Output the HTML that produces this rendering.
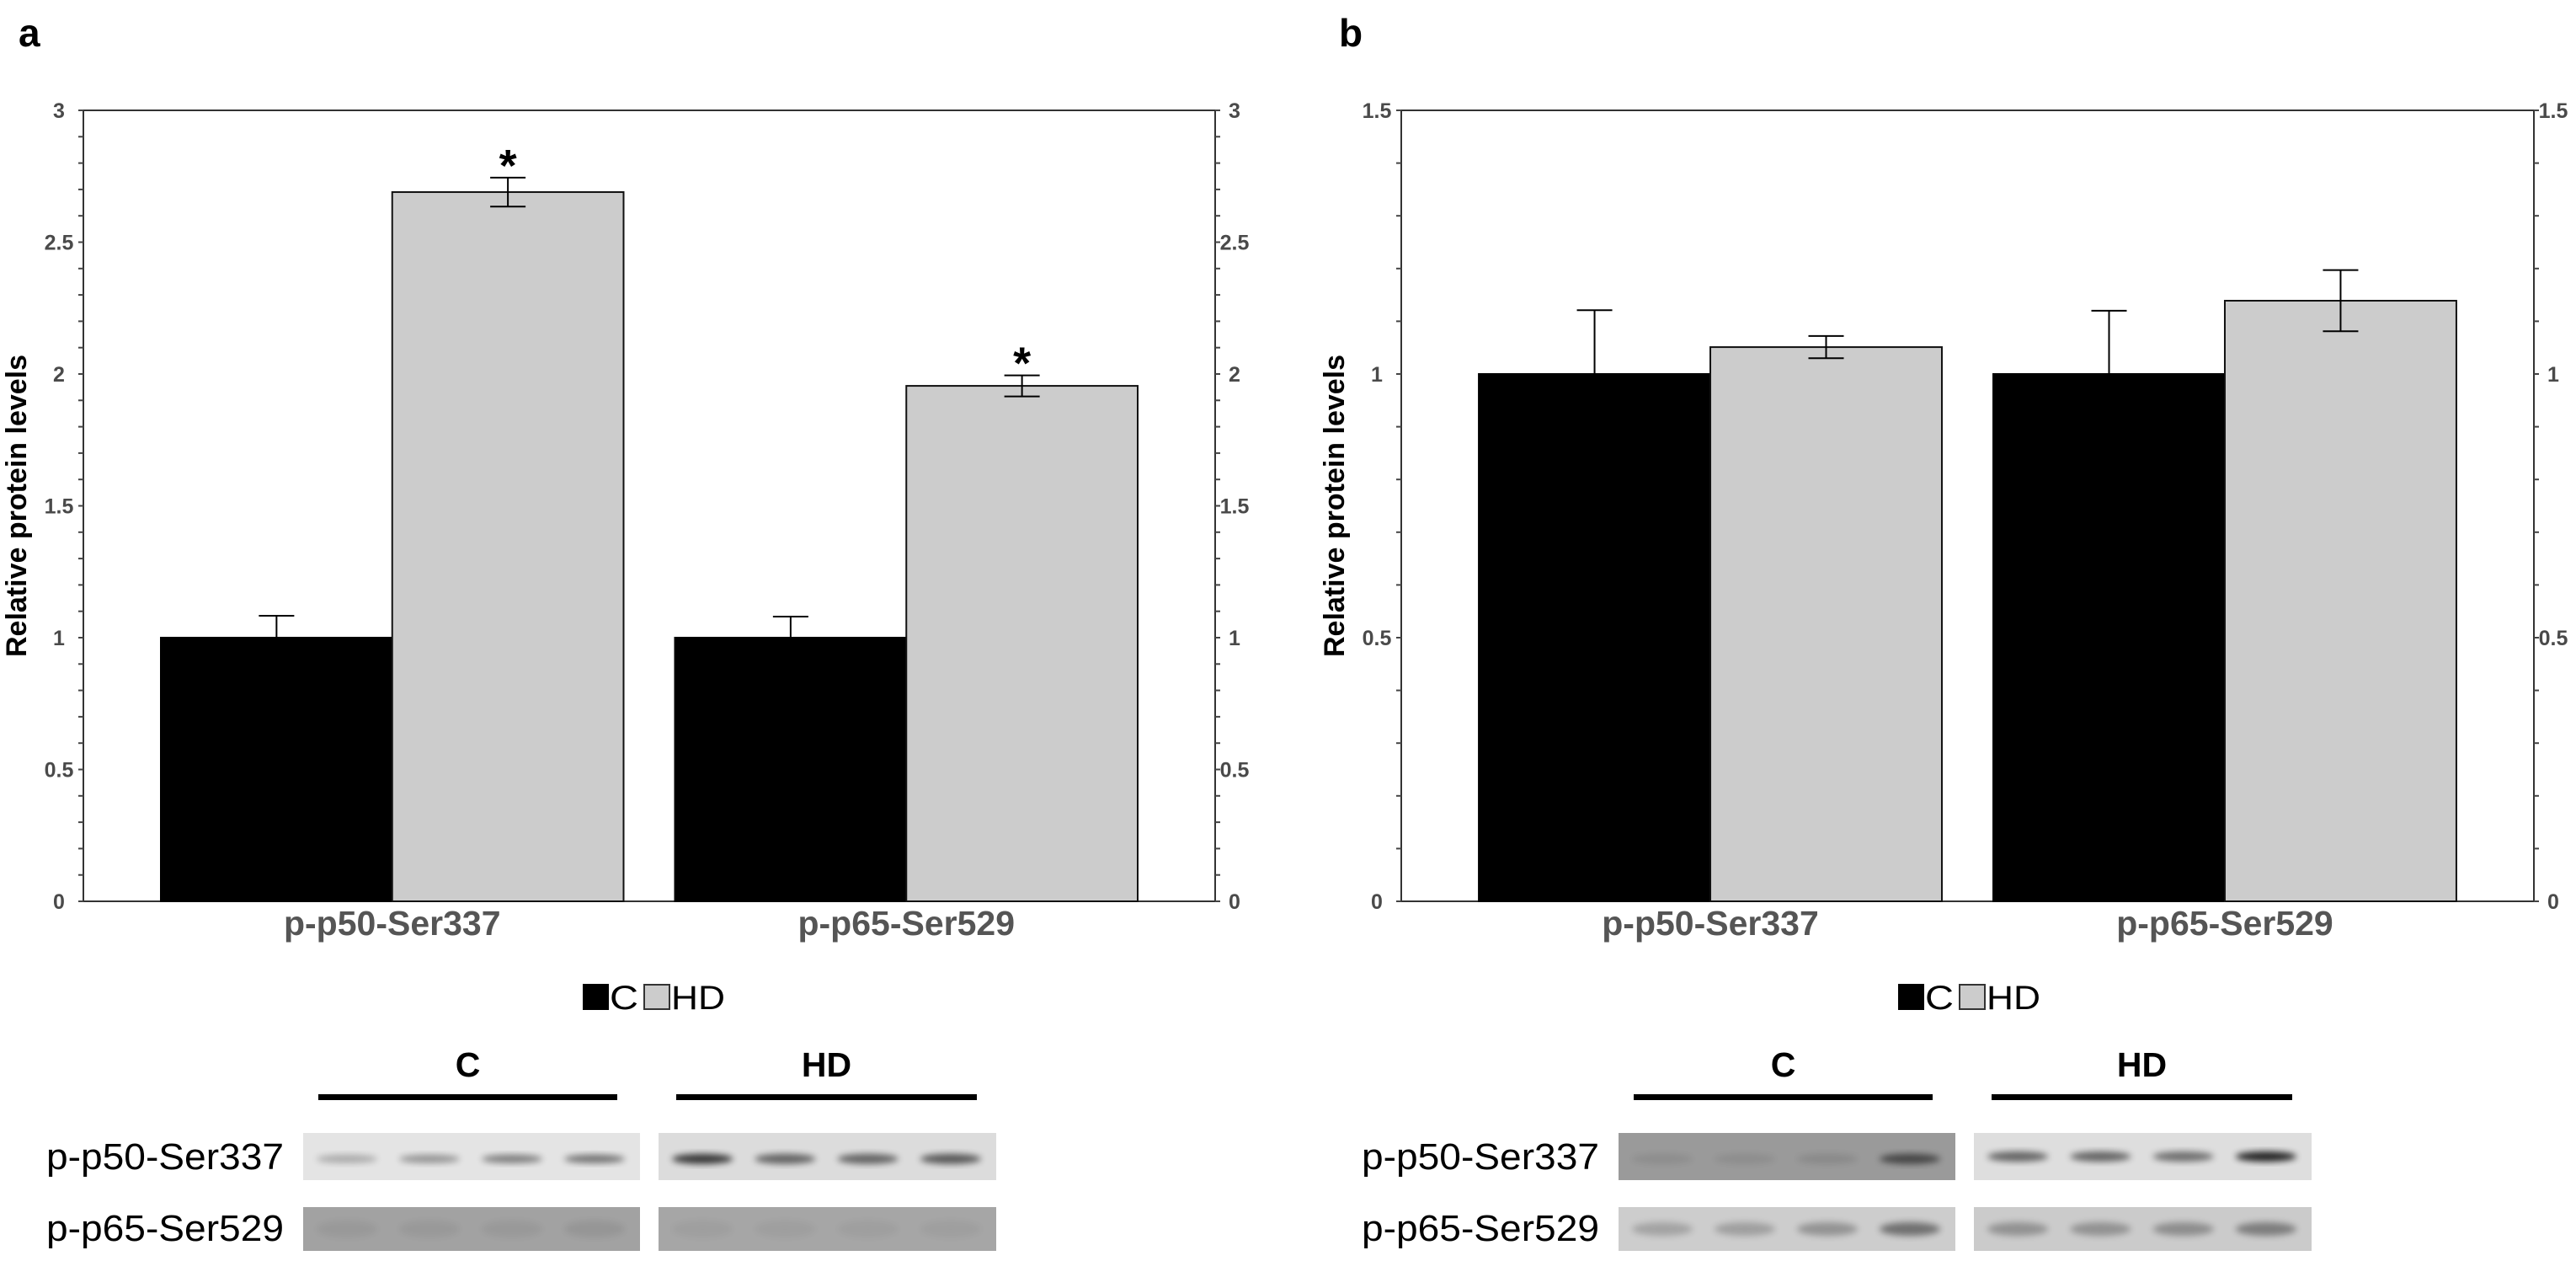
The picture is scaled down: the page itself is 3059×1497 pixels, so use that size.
<!DOCTYPE html>
<html><head><meta charset="utf-8"><style>
html,body{margin:0;padding:0;background:#fff}
svg{display:block}
text{font-family:"Liberation Sans",Arial,sans-serif}
</style></head><body>
<svg id="fig" width="3059" height="1497" viewBox="0 0 3059 1497" xmlns="http://www.w3.org/2000/svg">
<defs>
<filter id="blur" x="-20%" y="-50%" width="140%" height="200%"><feGaussianBlur stdDeviation="4"/></filter>
</defs>
<text x="22" y="55" font-size="46" font-weight="bold">a</text>
<text x="1590" y="55" font-size="46" font-weight="bold">b</text>
</svg>
<script>
const categories = ["p-p50-Ser337", "p-p65-Ser529"];
const seriesNames = ["C", "HD"];
const aC = [1.0, 1.0];
const aHD = [2.69, 1.955];
const aCerr = [0.083, 0.08];
const aHDerr = [0.055, 0.04];
const aSig = [true, true];
const aTicks = ["0", "0.5", "1", "1.5", "2", "2.5", "3"];
const bC = [1.0, 1.0];
const bHD = [1.051, 1.139];
const bCerr = [0.121, 0.12];
const bHDerr = [0.021, 0.058];
const bSig = [false, false];
const bTicks = ["0", "0.5", "1", "1.5"];

const NS = "http://www.w3.org/2000/svg";
const svg = document.getElementById("fig");
function mk(tag, attrs, parent, txt) {
  const e = document.createElementNS(NS, tag);
  for (const k in attrs) e.setAttribute(k, attrs[k]);
  if (txt !== undefined) e.textContent = txt;
  (parent || svg).appendChild(e);
  return e;
}

function panel(p, left, right, C, HD, Cerr, HDerr, sig, ticks) {
  const top = 131, bottom = 1070;
  const g = mk("g", {});
  
  
  const ymax = parseFloat(ticks[ticks.length - 1]);
  const y = v => bottom - v / ymax * (bottom - top);
  const W = right - left;
  const margin = W * 92 / 1344, gap = W * 61 / 1344;
  const barW = (W - 2 * margin - gap) / 4;
  const groupX = i => left + margin + i * (2 * barW + gap);
  const fr = mk("rect", {x: left, y: top, width: W, height: bottom - top, fill: "none", stroke: "#333", "stroke-width": 2}, g);
  
  
  const nMinor = Math.round(ymax * 10);
  for (let k = 0; k <= nMinor; k++) {
    const yy = y(k / 10);
    mk("line", {x1: left - 6, x2: left, y1: yy, y2: yy, stroke: "#444", "stroke-width": 2}, g);
    mk("line", {x1: right, x2: right + 6, y1: yy, y2: yy, stroke: "#444", "stroke-width": 2}, g);
  }
  ticks.forEach(t => {
    const yy = y(parseFloat(t));
    const l = mk("text", {x: left - 29, y: yy + 9, "font-size": 25, "font-weight": "bold", fill: "#4a4a4a", "text-anchor": "middle"}, g, t);
    
    
    const r = mk("text", {x: right + 23, y: yy + 9, "font-size": 25, "font-weight": "bold", fill: "#4a4a4a", "text-anchor": "middle"}, g, t);
    
    
  });
  categories.forEach((c, i) => {
    const x0 = groupX(i);
    const b1 = mk("rect", {x: x0, y: y(C[i]), width: barW, height: bottom - y(C[i]), fill: "#000", stroke: "#000", "stroke-width": 2}, g);
    
    
    const b2 = mk("rect", {x: x0 + barW, y: y(HD[i]), width: barW, height: bottom - y(HD[i]), fill: "#cccccc", stroke: "#111", "stroke-width": 2}, g);
    
    
    const cx1 = x0 + barW / 2, cx2 = x0 + 1.5 * barW, cap = 21;
    mk("line", {x1: cx1, x2: cx1, y1: y(C[i]), y2: y(C[i] + Cerr[i]), stroke: "#000", "stroke-width": 2}, g);
    mk("line", {x1: cx1 - cap, x2: cx1 + cap, y1: y(C[i] + Cerr[i]), y2: y(C[i] + Cerr[i]), stroke: "#000", "stroke-width": 2}, g);
    mk("line", {x1: cx2, x2: cx2, y1: y(HD[i] - HDerr[i]), y2: y(HD[i] + HDerr[i]), stroke: "#000", "stroke-width": 2}, g);
    mk("line", {x1: cx2 - cap, x2: cx2 + cap, y1: y(HD[i] + HDerr[i]), y2: y(HD[i] + HDerr[i]), stroke: "#000", "stroke-width": 2}, g);
    mk("line", {x1: cx2 - cap, x2: cx2 + cap, y1: y(HD[i] - HDerr[i]), y2: y(HD[i] - HDerr[i]), stroke: "#000", "stroke-width": 2}, g);
    if (sig[i]) {
      const s = mk("text", {x: cx2, y: y(HD[i] + HDerr[i]) + 4, "font-size": 54, "font-weight": "bold", "text-anchor": "middle"}, g, "*");
      
      
    }
    const cl = mk("text", {x: x0 + barW, y: 1110, "font-size": 41, "font-weight": "bold", fill: "#555", "text-anchor": "middle"}, g, c);
    
    
  });
  const yt = mk("text", {transform: "translate(" + (left - 68) + "," + ((top + bottom) / 2) + ") rotate(-90)", "font-size": 34, "font-weight": "bold", "text-anchor": "middle"}, g, "Relative protein levels");
  
  
}
panel("a", 99, 1443, aC, aHD, aCerr, aHDerr, aSig, aTicks);
panel("b", 1664, 3009, bC, bHD, bCerr, bHDerr, bSig, bTicks);

function legendAndBlots(p, dx, blotStyle) {
  const g = mk("g", {});
  
  
  const lg = mk("g", {}, g);
  
  
  mk("rect", {x: 692 + dx, y: 1168, width: 31, height: 31, fill: "#000"}, lg);
  mk("text", {x: 724 + dx, y: 1198, "font-size": 40, textLength: 34, lengthAdjust: "spacingAndGlyphs"}, lg, seriesNames[0]);
  mk("rect", {x: 765 + dx, y: 1169, width: 30, height: 29, fill: "#ccc", stroke: "#333", "stroke-width": 2}, lg);
  mk("text", {x: 797 + dx, y: 1198, "font-size": 40, textLength: 64, lengthAdjust: "spacingAndGlyphs"}, lg, seriesNames[1]);
  const groups = [["C", 378, 733], ["HD", 803, 1160]];
  groups.forEach(([n, x1, x2]) => {
    const t = mk("text", {x: (x1 + x2) / 2 + dx, y: 1278, "font-size": 41, "font-weight": "bold", "text-anchor": "middle"}, g, n);
    
    
    mk("rect", {x: x1 + dx, y: 1299, width: x2 - x1, height: 7, fill: "#000"}, g);
  });
  const rows = [["p-p50-Ser337", 1345, 56, 1388], ["p-p65-Ser529", 1433, 52, 1473]];
  rows.forEach(([name, y0, h, ty], r) => {
    const t = mk("text", {x: 55 + dx, y: ty, "font-size": 44, textLength: 282, lengthAdjust: "spacingAndGlyphs"}, g, name);
    
    
    [[360, 400], [782, 401]].forEach(([bx, bw], s) => {
      const st = blotStyle[r][s];
      const blot = mk("g", {}, g);
      
      
      mk("rect", {x: bx + dx, y: y0, width: bw, height: h, fill: st.bg}, blot);
      st.bands.forEach((op, k) => {
        mk("ellipse", {cx: bx + dx + bw * (0.13 + k * 0.245), cy: y0 + h * st.cy, rx: bw * 0.09, ry: st.ry, fill: "#000", opacity: op, filter: "url(#blur)"}, blot);
      });
    });
  });
}
legendAndBlots("a", 0, [
  [{bg: "#e4e4e4", cy: 0.55, ry: 5, bands: [0.25, 0.35, 0.45, 0.5]}, {bg: "#dcdcdc", cy: 0.55, ry: 6, bands: [0.75, 0.55, 0.55, 0.6]}],
  [{bg: "#a2a2a2", cy: 0.5, ry: 10, bands: [0.05, 0.05, 0.05, 0.07]}, {bg: "#a6a6a6", cy: 0.5, ry: 10, bands: [0.04, 0.04, 0.04, 0.04]}]
]);
legendAndBlots("b", 1562, [
  [{bg: "#9a9a9a", cy: 0.55, ry: 6, bands: [0.08, 0.08, 0.1, 0.55]}, {bg: "#dedede", cy: 0.5, ry: 6, bands: [0.55, 0.55, 0.5, 0.85]}],
  [{bg: "#cdcdcd", cy: 0.5, ry: 8, bands: [0.2, 0.22, 0.28, 0.45]}, {bg: "#cbcbcb", cy: 0.5, ry: 8, bands: [0.28, 0.28, 0.3, 0.38]}]
]);
</script>
</body></html>
